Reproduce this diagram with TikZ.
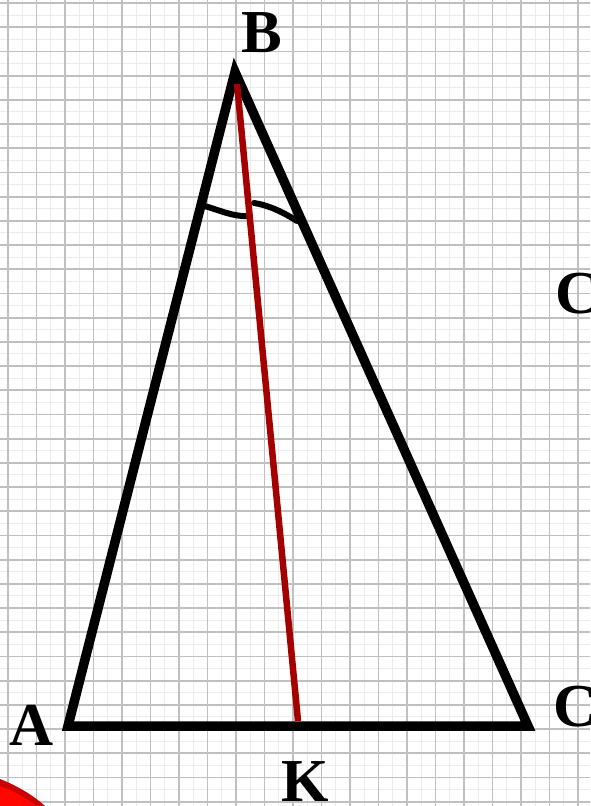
\documentclass[tikz,border=0pt]{standalone}
\usepackage{fontspec}
\setmainfont{Liberation Serif}
\definecolor{bisred}{RGB}{165,0,0}
\definecolor{gridmain}{RGB}{192,192,192}
\definecolor{gridfaint}{RGB}{236,236,236}
\begin{document}
\begin{tikzpicture}[x=1pt,y=-1pt,
  side/.style={line width=9.5pt, line join=miter, line cap=butt},
  bis/.style={line width=6.5pt, draw=bisred},
  anglemark/.style={line width=6pt, line cap=round},
  lab/.style={font=\fontsize{61}{61}\selectfont\bfseries, inner sep=0pt}]
\fill[white] (0,0) rectangle (590,806);
\useasboundingbox (0,0) rectangle (590,806);
% faint grid
\foreach \i in {0,...,20} {\draw[gridfaint, line width=1pt] ({22.25+28.5*\i},0) -- ({22.25+28.5*\i},806);}
\foreach \j in {0,...,33} {\draw[gridfaint, line width=1pt] (0,{15.1+24.2*\j}) -- (590,{15.1+24.2*\j});}
% main grid
\foreach \i in {0,...,20} {\draw[gridmain, line width=1.8pt] ({8+28.5*\i},0) -- ({8+28.5*\i},806);}
\foreach \j in {0,...,33} {\draw[gridmain, line width=1.8pt] (0,{3+24.2*\j}) -- (590,{3+24.2*\j});}
% corner decoration
\fill[red!80!black] (0,779) .. controls (18,786) and (34,796) .. (45,806) -- (0,806) -- cycle;
\fill[red!95!orange] (0,786) .. controls (16,792) and (28,799) .. (36,806) -- (0,806) -- cycle;
% vertices
\coordinate (A) at (68,726);
\coordinate (B) at (235,72);
\coordinate (C) at (528,726);
\coordinate (K) at (298,721);
\coordinate (Bin) at (237,84);
% triangle
\draw[side] (A) -- (B) -- (C) -- cycle;
% angle marks
\coordinate (L1) at (201,205);
\coordinate (L2) at (250,216);
\coordinate (R1) at (254,203);
\coordinate (R2) at (297,221);
\draw[anglemark] (L1) .. controls (220,210) and (232,217) .. (L2);
\draw[anglemark] (R1) .. controls (268,205) and (283,212) .. (R2);
% bisector
\draw[bis] (Bin) -- (K);
% labels
\node[lab] (labB) at (262,33) {B};
\node[lab] (labA) at (32,725) {A};
\node[lab] (labC) at (576,707) {C};
\node[lab] (labC2) at (578,294) {C};
\node[lab] (labK) at (305,782) {K};
\end{tikzpicture}
\end{document}
